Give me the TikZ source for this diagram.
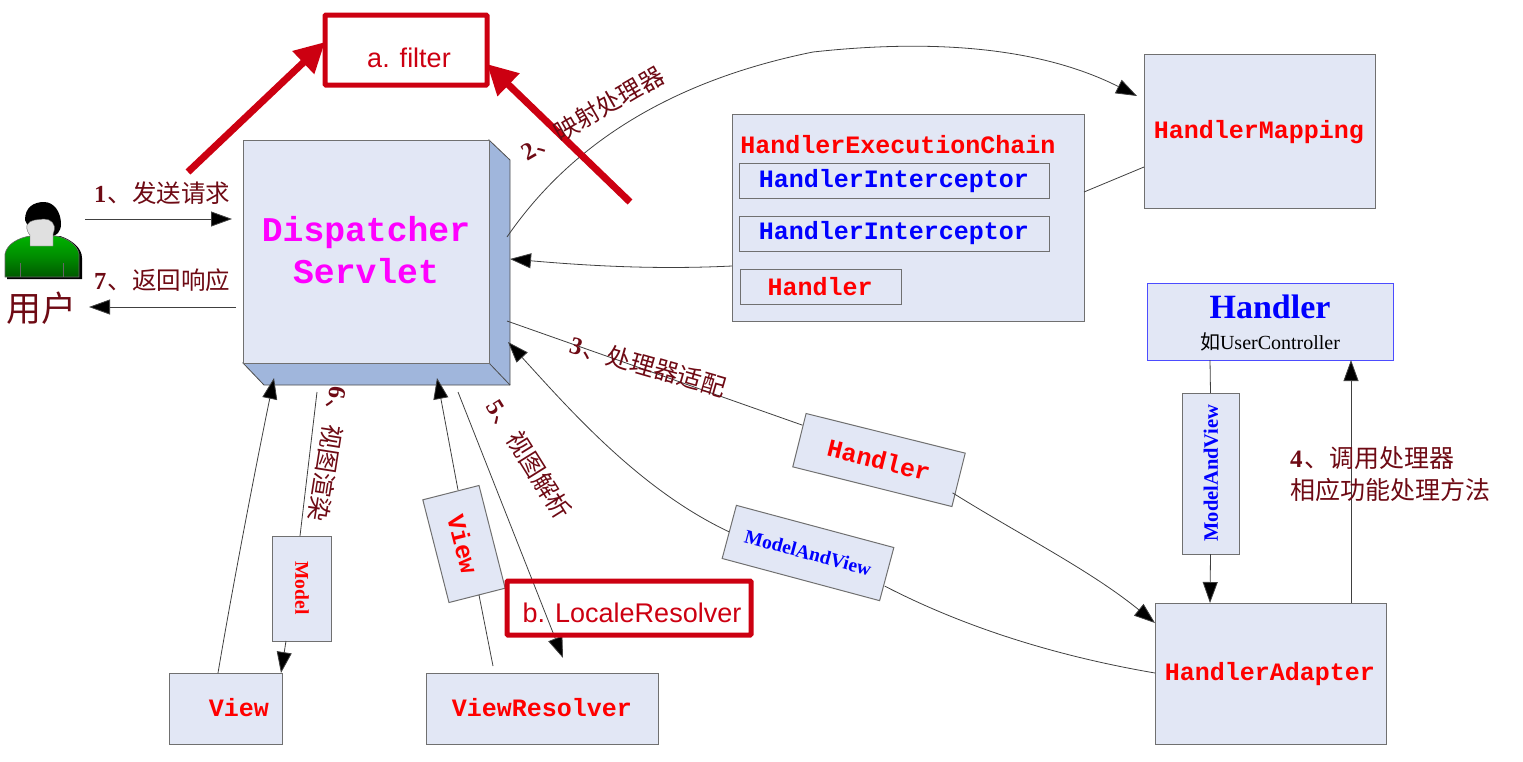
\documentclass[tikz,border=0pt]{standalone}
\usepackage{fontspec}
\setmainfont{Liberation Serif}
\setsansfont{Liberation Sans}
\setmonofont{Liberation Mono}
\newfontfamily\cjk{Noto Sans CJK SC}
\usetikzlibrary{arrows.meta,calc}
\definecolor{boxfill}{HTML}{E2E7F5}
\definecolor{boxside}{HTML}{A0B6DC}
\definecolor{boxline}{HTML}{707070}
\definecolor{lab}{HTML}{6E0A14}
\definecolor{alert}{HTML}{CC0011}
\definecolor{magentaT}{HTML}{FF00FF}
\newcommand{\fs}[1]{\fontsize{#1}{#1}\selectfont}
\tikzset{
  box/.style={draw=boxline,fill=boxfill,line width=1pt,inner sep=0pt,outer sep=0pt,align=center},
  monored/.style={font=\ttfamily\bfseries\fs{25},text=red},
  monoblue/.style={font=\ttfamily\bfseries\fs{25},text=blue},
  serifblue/.style={font=\rmfamily\bfseries\fs{19.5},text=blue},
  seriflab/.style={font=\rmfamily\bfseries\fs{19.5},text=red},
  conn/.style={draw=black!75,line width=0.8pt},
  tip/.style={conn,-{Triangle[length=21pt,width=15pt,fill=black]}},
  steplab/.style={text=lab,font=\fs{24.5},inner sep=0pt},
  alertbox/.style={draw=alert,line width=5pt,rounded corners=1pt,inner sep=0pt},
  alerttext/.style={text=alert,font=\sffamily\fs{27},inner sep=0pt},
  alertarrow/.style={draw=alert,line width=7pt,-{Triangle[length=30pt,width=30pt,fill=alert]}}
}
\newcommand{\stepnum}[2]{\textbf{#1}\kern1.5pt{\cjk #2}}
\begin{document}
\begin{tikzpicture}[x=1pt,y=-1pt]
\useasboundingbox (0,0) rectangle (1523,761);

% Dispatcher 3D box
\fill[boxside,draw=black!70,line width=0.8pt] (243,363) -- (489,363) -- (489,140) -- (510,160) -- (510,385) -- (264,385) -- cycle;
\draw[black!70,line width=0.8pt] (489,363) -- (510,385);
\node[box,minimum width=246pt,minimum height=223pt] (ds) at (366,251.5) {};
\node[font=\ttfamily\bfseries\fs{34.7},text=magentaT,align=center] (dst) at (366,250) {Dispatcher\\[6.5pt]Servlet};

% user icon
\fill[black] (7,279) -- (7,257) .. controls (8,245) and (20,238) .. (32,236) -- (60,236) .. controls (72,240) and (82,248) .. (82,258) -- (82,279) -- cycle;
\draw[black!60,line width=0.6pt,top color=green!70!black,bottom color=green!35!black,middle color=green!55!black]
  (5,277) -- (5,254) .. controls (7,244) and (18,238) .. (30,236) -- (56,236) .. controls (68,238) and (78,246) .. (79,254) -- (79,277) -- cycle;
\draw[black!60,line width=0.5pt] (20,263) -- (20,277) (63,263) -- (63,277);
\fill[black] (25,220) .. controls (25,207) and (34,202) .. (44,202) .. controls (54,202) and (61,212) .. (61,224) .. controls (61,232) and (56,236) .. (52,236) -- (30,230) -- cycle;
\fill[black!12,draw=black!60,line width=0.4pt] (27,225) .. controls (30,219) and (38,220) .. (44,219) .. controls (51,219) and (56,224) .. (54,231) -- (53,234) -- (53,246) -- (30,246) -- (30,235) .. controls (28,233) and (26,229) .. (27,225) -- cycle;
\node[text=lab,font=\cjk\fs{35},inner sep=0pt] (user) at (41,308) {用户};

% right side boxes
\node[box,minimum width=231pt,minimum height=154pt] (hm) at (1259.5,131) {};
\node[monored] (hmt) at (1259,132) {HandlerMapping};
\node[box,minimum width=352pt,minimum height=207pt] (hec) at (908,217.5) {};
\node[monored] (hect) at (898,145) {HandlerExecutionChain};
\node[box,minimum width=310pt,minimum height=35pt] (hi1) at (894,180.5) {};
\node[monoblue] at (894,181) {HandlerInterceptor};
\node[box,minimum width=310pt,minimum height=35pt] (hi2) at (894,233.5) {};
\node[monoblue] at (894,233) {HandlerInterceptor};
\node[box,minimum width=161pt,minimum height=35pt] (h0) at (820.5,286.5) {};
\node[monored] at (820,287) {Handler};

\node[box,draw=blue!70!white,line width=1pt,minimum width=246pt,minimum height=77pt] (hb) at (1270,321.5) {};
\node[font=\rmfamily\bfseries\fs{34},text=blue] at (1270,307) {Handler};
\node[font=\fs{20},inner sep=0pt] at (1270,342) {{\cjk 如}UserController};

\node[box,minimum width=231pt,minimum height=141pt] (ha) at (1270.5,673.5) {};
\node[monored] at (1270,674) {HandlerAdapter};
\node[box,minimum width=113pt,minimum height=71pt] (vw) at (225.5,708.5) {};
\node[monored] at (239,708) {View};
\node[box,minimum width=232pt,minimum height=71pt] (vr) at (542,708.5) {};
\node[monored] at (542,708) {ViewResolver};

% connector ends
\coordinate (d2) at (507,237);
\coordinate (d2m) at (813,52);
\coordinate (hmIn) at (1137,96);
\coordinate (dIn) at (510,259);
\coordinate (hecL) at (732,266);
\coordinate (d3) at (507,321);
\coordinate (dIn2) at (508,342);
\coordinate (u1) at (85,219);
\coordinate (d1) at (232,219);
\coordinate (d7) at (236,307);
\coordinate (u7) at (89,307);
\coordinate (d6) at (317,392);
\coordinate (dVw) at (274,378);
\coordinate (dV) at (437,378);
\coordinate (d5) at (458,392);
\coordinate (vr5) at (563,658);
\coordinate (vrV) at (493,666);
\coordinate (vwM) at (281,673);

% connectors above the label boxes
\draw[tip] (u1) -- (d1);
\draw[tip] (d7) -- (u7);
\draw[conn] (d2) .. controls (560,160) and (650,85) .. (d2m);
\draw[tip] (d2m) .. controls (950,37) and (1050,52) .. (hmIn);
\draw[conn] (hm.west |- 0,167) -- (hec.east |- 0,192);
\draw[tip] (hecL) .. controls (650,270) and (580,265) .. (dIn);

% mid-line label boxes
\node[box,minimum width=164pt,minimum height=55pt,rotate=-14] (hr) at (879,460) {};
\node[monored,rotate=-14] at (879,460) {Handler};
\node[box,minimum width=163pt,minimum height=55pt,rotate=-15] (mv) at (808,553) {};
\node[serifblue,rotate=-15] at (808,553) {ModelAndView};
\node[box,minimum width=106pt,minimum height=58pt,rotate=-75.7] (vb) at (464,544) {};
\node[monored,rotate=-75.7] at (463,544) {View};
\node[box,minimum width=105pt,minimum height=59pt,rotate=-90] (mb) at (301.5,588.5) {};
\node[seriflab,rotate=-90] at (302,588) {Model};
\node[box,minimum width=161pt,minimum height=57pt,rotate=90] (mvv) at (1210.5,473.5) {};
\node[serifblue,font=\rmfamily\bfseries\fs{20.5},rotate=90] at (1211,473) {ModelAndView};

% remaining connectors
\draw[conn] (d3) -- ($(hr.west)+(3,-15)$);
\draw[tip] ($(hr.east)+(-6,13)$) .. controls (1020,535) and (1090,570) .. (1155,623);
\draw[conn] (ha.west |- 0,673) .. controls (1050,655) and (960,625) .. ($(mv.east)+(-2,12)$);
\draw[tip] (mv.west) .. controls (640,490) and (570,410) .. (dIn2);
\draw[conn] (1210,360) -- (mvv.east);
\draw[tip] (mvv.west) -- (1210,603);
\draw[tip] (1351,603) -- (1351,360);
\draw[conn] (d6) -- (300,536);
\draw[tip] (286,641) -- (vwM);
\draw[tip] (218,673) .. controls (232,590) and (255,470) .. (dVw);
\draw[tip] (458,490) -- (dV);
\draw[conn] (479,595) -- (vrV);
\draw[tip] (d5) -- (vr5);

% alert overlays
\node[alertbox,minimum width=162pt,minimum height=70pt] (af) at (406,50) {};
\node[alerttext] at (409,58) {a. filter};
\node[alertbox,minimum width=244pt,minimum height=54pt] (bl) at (629,608) {};
\node[alerttext] at (632,613) {b. LocaleResolver};
\coordinate (ar1) at (188,172);
\coordinate (ar2) at (630,202);
\draw[alertarrow] (ar1) -- (325,42);
\draw[alertarrow] (ar2) -- (487,64);

% step labels
\node[steplab,anchor=west] (s1) at (94,193) {\stepnum{1}{、发送请求}};
\node[steplab,anchor=west] (s7) at (94,280) {\stepnum{7}{、返回响应}};
\node[steplab,rotate=30] (s2) at (592,113) {\stepnum{2}{、映射处理器}};
\node[steplab,rotate=-16] (s3) at (648,366) {\stepnum{3}{、处理器适配}};
\node[steplab,font=\fs{25},anchor=west,align=left] (s4) at (1290,474) {\stepnum{4}{、调用处理器}\\[7pt]{\cjk 相应功能处理方法}};
\node[steplab,rotate=-58] (s5) at (529,459) {\stepnum{5}{、视图解析}};
\node[steplab,rotate=-99] (s6) at (329,454) {\stepnum{6}{、视图渲染}};
\end{tikzpicture}
\end{document}
